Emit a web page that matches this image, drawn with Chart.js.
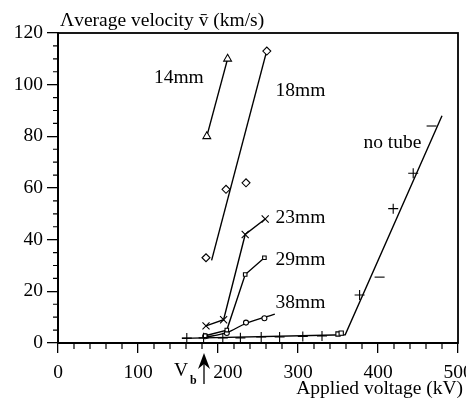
<!DOCTYPE html>
<html>
<head>
<meta charset="utf-8">
<script src="https://cdn.jsdelivr.net/npm/chart.js@4"></script>
<style>
  html, body { margin: 0; padding: 0; background: #fff; }
</style>
</head>
<body>
<canvas id="myChart" width="466" height="399"></canvas>
<script>
// axis ticks
const xTicks = [0, 100, 200, 300, 400, 500];
const yTicks = [0, 20, 40, 60, 80, 100, 120];
const xMinorStep = 20;
const yMinorStep = 5;

// 14mm tube
const v14x = [186, 212];
const v14y = [80, 110];
// 18mm tube (points + fitted line)
const v18x = [185, 210, 235, 261];
const v18y = [33, 59.5, 62, 113];
const fit18x = [192, 260];
const fit18y = [32, 112];
// 23mm tube
const v23x = [185, 207, 234, 259];
const v23y = [6.6, 9, 42, 48];
// 29mm tube
const v29x = [184, 211, 234, 258];
const v29y = [2.8, 5, 26.5, 33];
// 38mm tube (points + fitted curve)
const v38x = [184, 211, 235, 258];
const v38y = [2.6, 3.9, 7.9, 9.6];
const fit38x = [184, 211, 235, 271];
const fit38y = [2.2, 4, 7.6, 11.2];
// no tube
const noTubePlusX = [161, 182, 206, 228, 254, 277, 306, 330, 377, 419, 444];
const noTubePlusY = [1.9, 2, 2, 2, 2.3, 2.3, 2.5, 2.7, 18.6, 52, 65.7];
const noTubeSqX = [350, 354];
const noTubeSqY = [3.5, 3.8];
const noTubeDashX = [402, 467];
const noTubeDashY = [25.5, 84];
const fitNoTubeX = [155, 359, 480];
const fitNoTubeY = [1.8, 3.2, 88];

// curve labels (data coordinates)
const curveLabels = ['14mm', '18mm', '23mm', '29mm', '38mm', 'no tube'];
const labelX = [151, 303, 303, 303, 303, 418];
const labelY = [102.5, 97.6, 48.6, 32.3, 15.5, 77.4];

const vb = 182.5;

const FONT = 'Liberation Serif';
const FS = 19.5;

function pts(xs, ys) {
  return xs.map((x, i) => ({ x, y: ys[i] }));
}

function markers(xs, ys, style, r) {
  return {
    data: pts(xs, ys),
    showLine: false,
    pointStyle: style,
    pointRadius: r,
    pointBackgroundColor: '#fff',
    pointBorderColor: '#000',
    pointBorderWidth: 1.1,
  };
}

function line(xs, ys, tension) {
  return {
    data: pts(xs, ys),
    showLine: true,
    pointRadius: 0,
    borderColor: '#000',
    borderWidth: 1.4,
    tension: tension || 0,
  };
}

const paperPlugin = {
  id: 'paper',
  afterDraw(chart) {
    const { ctx, chartArea: a, scales } = chart;
    const xs = scales.x;
    const ys = scales.y;
    ctx.save();
    ctx.strokeStyle = '#000';
    ctx.fillStyle = '#000';

    // frame
    ctx.lineWidth = 1.8;
    ctx.strokeRect(a.left, a.top, a.right - a.left, a.bottom - a.top);

    // minor ticks
    ctx.lineWidth = 1.2;
    ctx.beginPath();
    for (let v = 0; v <= 500; v += xMinorStep) {
      if (v % 100 === 0) continue;
      const px = xs.getPixelForValue(v);
      ctx.moveTo(px, a.bottom);
      ctx.lineTo(px, a.bottom + 6);
    }
    for (let v = 0; v <= 120; v += yMinorStep) {
      if (v % 20 === 0) continue;
      const py = ys.getPixelForValue(v);
      ctx.moveTo(a.left, py);
      ctx.lineTo(a.left - 5, py);
    }
    ctx.stroke();

    // curve labels
    ctx.font = `${FS}px "${FONT}"`;
    ctx.textAlign = 'center';
    ctx.textBaseline = 'middle';
    curveLabels.forEach((t, i) => {
      ctx.fillText(t, xs.getPixelForValue(labelX[i]), ys.getPixelForValue(labelY[i]));
    });

    // axis titles
    ctx.textAlign = 'left';
    ctx.fillText('\u039Bverage velocity v\u0304 (km/s)', 60, 21);
    ctx.textAlign = 'right';
    ctx.fillText('Applied voltage (kV)', 463, 389);

    // V_b arrow
    const ax = xs.getPixelForValue(vb);
    ctx.lineWidth = 1.3;
    ctx.beginPath();
    ctx.moveTo(ax, a.bottom + 20);
    ctx.lineTo(ax, a.bottom + 41);
    ctx.stroke();
    ctx.beginPath();
    ctx.moveTo(ax, a.bottom + 10);
    ctx.lineTo(ax + 6, a.bottom + 26);
    ctx.lineTo(ax, a.bottom + 21);
    ctx.lineTo(ax - 6, a.bottom + 26);
    ctx.closePath();
    ctx.fill();
    ctx.textAlign = 'right';
    ctx.fillText('V', ax - 16, a.bottom + 28);
    ctx.font = `bold 12px "${FONT}"`;
    ctx.textAlign = 'left';
    ctx.fillText('b', ax - 14, a.bottom + 38);
    ctx.restore();
  },
};

const config = {
  type: 'scatter',
  data: {
    datasets: [
      markers(v14x, v14y, 'triangle', 4.5),
      markers(v18x, v18y, 'rectRot', 4),
      markers(v23x, v23y, 'crossRot', 5),
      markers(v29x, v29y, 'rect', 2.5),
      markers(v38x, v38y, 'circle', 2.5),
      markers(noTubePlusX, noTubePlusY, 'cross', 5),
      markers(noTubeSqX, noTubeSqY, 'rect', 3),
      markers(noTubeDashX, noTubeDashY, 'line', 5),
      line(v14x, v14y),
      line(fit18x, fit18y),
      line(v23x, v23y),
      line(v29x, v29y),
      line(fit38x, fit38y, 0.3),
      line(fitNoTubeX, fitNoTubeY),
    ],
  },
  options: {
    responsive: false,
    animation: false,
    layout: { padding: { top: 33, right: 8, left: 0, bottom: 0 } },
    plugins: {
      legend: { display: false },
      tooltip: { enabled: false },
    },
    scales: {
      x: {
        type: 'linear',
        min: 0,
        max: 500,
        afterBuildTicks: (s) => { s.ticks = xTicks.map((v) => ({ value: v })); },
        afterFit: (s) => { s.height = 56; s.paddingLeft = 0; s.paddingRight = 0; },
        ticks: {
          color: '#000',
          padding: 8,
          maxRotation: 0,
          autoSkip: false,
          font: { family: FONT, size: FS },
          callback: (v) => (v === 200 ? '\u2002\u2002200' : v),
        },
        grid: { drawOnChartArea: false, tickLength: 10, color: '#000', lineWidth: 1.3 },
        border: { color: '#000', width: 2 },
      },
      y: {
        min: 0,
        max: 120,
        afterBuildTicks: (s) => { s.ticks = yTicks.map((v) => ({ value: v })); },
        afterFit: (s) => { s.width = 58; s.paddingTop = 0; s.paddingBottom = 0; },
        ticks: {
          color: '#000',
          padding: 4,
          font: { family: FONT, size: FS },
        },
        grid: { drawOnChartArea: false, tickLength: 11, color: '#000', lineWidth: 1.3 },
        border: { color: '#000', width: 2 },
      },
    },
  },
  plugins: [paperPlugin],
};

const myChart = new Chart(document.getElementById('myChart'), config);
</script>
</body>
</html>
